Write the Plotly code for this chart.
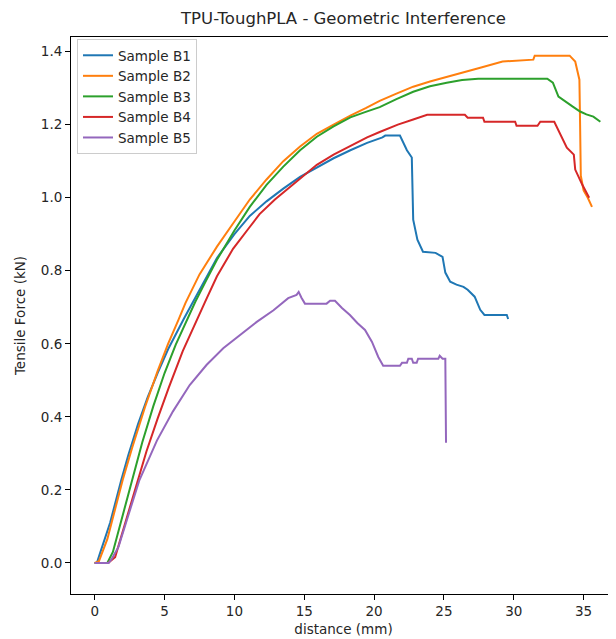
import plotly.graph_objects as go

title = "TPU-ToughPLA - Geometric Interference"
x_label = "distance (mm)"
y_label = "Tensile Force (kN)"
names = ["Sample B1", "Sample B2", "Sample B3", "Sample B4", "Sample B5"]
colors = ["#1f77b4", "#ff7f0e", "#2ca02c", "#d62728", "#9467bd"]

b1_x = [0, 0.15, 0.38, 1.1, 1.9, 2.4, 3.1, 3.8, 4.5, 5.25, 6.4, 6.9, 7.7, 8.75, 10, 11.1, 12.3, 13.5, 14.7, 15.9, 17.1, 18.3,
        19.5, 20.6, 20.8, 21.85, 22.35, 22.7, 22.8, 23.1, 23.5, 24.4, 24.9, 25.1, 25.45, 25.9, 26.4, 26.7, 27.2, 27.6,
        27.9, 29.5, 29.6]
b1_y = [0, 0, 0.027, 0.11, 0.227, 0.295, 0.38, 0.455, 0.52, 0.585, 0.67, 0.705, 0.765, 0.835, 0.90, 0.95, 0.99, 1.025,
        1.057, 1.083, 1.108, 1.13, 1.15, 1.165, 1.17, 1.17, 1.13, 1.11, 0.94, 0.885, 0.852, 0.849, 0.838, 0.795, 0.77,
        0.762, 0.756, 0.748, 0.729, 0.693, 0.679, 0.679, 0.668]

b2_x = [0, 0.3, 0.9, 1.4, 2.0, 2.7, 3.6, 4.5, 5.25, 6.0, 6.5, 7.5, 8.75, 10, 11.1, 12.3, 13.5, 14.7, 15.9, 17.1, 18.3,
        19.4, 20.4, 21.6, 22.8, 24, 25.2, 26.4, 27.6, 29.2, 31.4, 31.5, 34.0, 34.4, 34.7, 34.75, 34.8, 35.0, 35.3, 35.6]
b2_y = [0, 0.005, 0.065, 0.14, 0.227, 0.318, 0.427, 0.525, 0.60, 0.666, 0.712, 0.79, 0.866, 0.935, 0.995, 1.05, 1.10,
        1.14, 1.175, 1.20, 1.225, 1.245, 1.265, 1.285, 1.304, 1.318, 1.33, 1.343, 1.356, 1.373, 1.378, 1.389, 1.389,
        1.373, 1.323, 1.2, 1.06, 1.02, 1.0, 0.975]

b3_x = [0, 0.9, 1.3, 2.0, 2.65, 3.4, 4.2, 5.0, 5.8, 6.6, 7.2, 8.0, 8.75, 10, 11.1, 12.3, 13.5, 14.7, 15.9, 17.1, 18.3,
        19.4, 20.4, 21.6, 22.8, 24, 25.2, 26.3, 27.45, 32.4, 32.8, 33.2, 33.8, 34.2, 34.75, 35.2, 35.7, 36.2]
b3_y = [0, 0, 0.03, 0.13, 0.227, 0.33, 0.43, 0.52, 0.598, 0.666, 0.715, 0.775, 0.83, 0.91, 0.975, 1.035, 1.085, 1.13,
        1.167, 1.195, 1.22, 1.235, 1.248, 1.27, 1.29, 1.305, 1.315, 1.322, 1.326, 1.326, 1.315, 1.277, 1.26, 1.25,
        1.236, 1.228, 1.222, 1.208]

b4_x = [0, 0.95, 1.46, 1.95, 2.5, 3.05, 3.7, 4.5, 5.3, 6.3, 7.3, 7.9, 8.75, 9.9, 11.0, 11.8, 12.9, 14.0, 15.0, 15.9,
        17.1, 18.3, 19.5, 20.4, 21.7, 22.8, 23.8, 26.5, 26.7, 27.8, 27.9, 30.1, 30.2, 31.7, 31.9, 32.9, 33.3, 33.8,
        34.3, 34.4, 34.9, 35.4]
b4_y = [0, 0, 0.016, 0.08, 0.15, 0.227, 0.305, 0.395, 0.48, 0.58, 0.666, 0.715, 0.785, 0.86, 0.915, 0.955, 0.995, 1.03,
        1.062, 1.09, 1.118, 1.142, 1.165, 1.18, 1.2, 1.214, 1.227, 1.227, 1.219, 1.219, 1.208, 1.208, 1.197, 1.197,
        1.208, 1.208, 1.178, 1.137, 1.118, 1.077, 1.036, 1.0]

b5_x = [0, 1.0, 1.2, 1.7, 2.4, 3.2, 4.45, 5.6, 6.8, 8.0, 9.2, 10.4, 11.6, 12.8, 13.85, 14.45, 14.6, 14.8, 15.05, 16.6,
        16.85, 17.2, 17.7, 18.27, 18.8, 19.35, 19.85, 20.3, 20.65, 21.85, 22.0, 22.35, 22.45, 22.7, 22.8, 23.05, 23.15,
        24.6, 24.7, 24.9, 25.1, 25.15]
b5_y = [0, 0, 0.01, 0.044, 0.13, 0.227, 0.335, 0.415, 0.487, 0.542, 0.588, 0.624, 0.66, 0.692, 0.725, 0.734, 0.742, 0.726,
        0.71, 0.71, 0.718, 0.718, 0.698, 0.679, 0.657, 0.638, 0.605, 0.564, 0.54, 0.54, 0.548, 0.548, 0.559, 0.559,
        0.548, 0.548, 0.559, 0.559, 0.567, 0.559, 0.559, 0.329]

x_ticks = [0, 5, 10, 15, 20, 25, 30, 35]
y_ticks = [0.0, 0.2, 0.4, 0.6, 0.8, 1.0, 1.2, 1.4]

series = [(b1_x, b1_y), (b2_x, b2_y), (b3_x, b3_y), (b4_x, b4_y), (b5_x, b5_y)]

FONT = "DejaVu Sans"
# page body has an 8px margin: figure origin sits at (8, 8) in the window
OFF = 8
W, H = 616 - OFF, 639 - OFF
L, T, B = 71 - OFF, 37 - OFF, 639 - 594

fig = go.Figure()
for (xs, ys), name, color in zip(series, names, colors):
    fig.add_trace(go.Scatter(x=xs, y=ys, mode="lines", name=name,
                             line=dict(color=color, width=2)))

fig.update_layout(
    width=W, height=H,
    margin=dict(l=L, r=0, t=T, b=B),
    paper_bgcolor="white", plot_bgcolor="white",
    font=dict(family=FONT, size=13.5, color="#262626"),
    title=dict(text=title, x=((71 + 616) / 2 - OFF) / W, xanchor="center", y=1 - (18 - OFF) / H, yanchor="middle",
               font=dict(family=FONT, size=16.5, color="#262626")),
    showlegend=True,
    legend=dict(x=(77 - 71) / (W - L), y=1 - (39 - 37) / (H - T - B), xanchor="left", yanchor="top",
                bgcolor="rgba(255,255,255,0.8)", bordercolor="#cccccc", borderwidth=1,
                font=dict(family=FONT, size=13.5, color="#262626"), tracegroupgap=0,
                itemwidth=30),
)
fig.update_xaxes(range=[-1.70, 37.32], tickvals=x_ticks, ticktext=[str(v) for v in x_ticks],
                 showgrid=False, zeroline=False, showline=True, linecolor="black", linewidth=1,
                 mirror=True, ticks="outside", ticklen=5, tickwidth=1, tickcolor="black",
                 title=dict(text=x_label, standoff=6, font=dict(family=FONT, size=13.5, color="#262626")))
fig.update_yaxes(range=[-0.085, 1.440], tickvals=y_ticks, ticktext=["%.1f" % v for v in y_ticks],
                 showgrid=False, zeroline=False, showline=True, linecolor="black", linewidth=1,
                 mirror=False, ticks="outside", ticklen=5, tickwidth=1, tickcolor="black",
                 title=dict(text=y_label, standoff=12, font=dict(family=FONT, size=13.5, color="#262626")))

fig.write_html("out.html")
